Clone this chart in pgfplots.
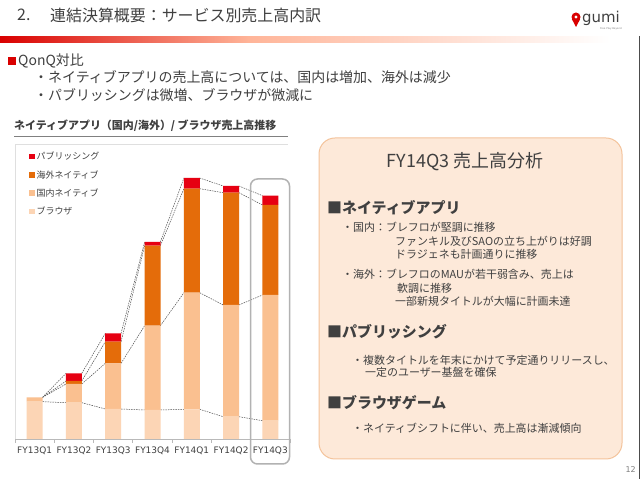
\documentclass[border=0pt]{standalone}
\usepackage{pgfplots}
\pgfplotsset{compat=1.18}
\usepackage{pgfplotstable}
\usepackage{fontspec}
\setmainfont{Noto Sans CJK JP}
\newfontfamily\dv{DejaVu Sans}

\definecolor{pubred}{HTML}{E60012}
\definecolor{overseas}{HTML}{E46C0A}
\definecolor{domestic}{HTML}{FAC090}
\definecolor{browser}{HTML}{FCD5B5}
\definecolor{txt}{HTML}{404040}
\definecolor{panelfill}{HTML}{FDE9D9}
\definecolor{panelline}{HTML}{F4C39B}

\newcommand\fs[1]{\fontsize{#1}{#1}\selectfont}

% sales by segment (same unit for all, no scale shown)
\pgfplotstableread{
q browser domestic overseas pub
0 37.3   4.3   0.0  0.0
1 36.3  18.7   3.0  7.7
2 30.0  45.7  21.6  8.4
3 29.0  84.3  80.0  3.7
4 29.7 116.6 104.0 10.7
5 22.3 111.7 112.3  6.7
6 18.3 125.7  90.0  9.3
}\sales

\pgfplotsset{
  base/.style={scale only axis, width=275bp, height=295bp,
    at={(15bp,40bp)}, anchor=south west,
    xmin=-0.5, xmax=6.5, ymin=0, ymax=295},
  conn/.style={black!70, line width=0.5bp, dash pattern=on 1.5bp off 1bp,
    unbounded coords=jump},
}

\begin{document}
\begin{tikzpicture}[x=1bp,y=1bp]
\fill[white] (0,0) rectangle (640,479);
\useasboundingbox (0,0) rectangle (640,479);

% slide header
\node[anchor=west, text=txt, inner sep=0] at (17,464) {\fs{16}2.};
\node[anchor=west, text=txt, inner sep=0] at (50,464) {\fs{16}連結決算概要：サービス別売上高内訳};
\shade[left color=red!85!black, right color=red!45!orange!40] (0,436.5) rectangle (250,442);
\shade[left color=red!45!orange!40, right color=white] (250,436.5) rectangle (610,442);
\draw[black!70, line width=0.8bp] (639,443) -- (639,0);

% logo
\fill[red!85!black] (576,462) circle (4.5);
\fill[red!85!black] (571.8,460) -- (580.2,460) -- (576,452) -- cycle;
\fill[white] (576,462) circle (1.6);
\node[anchor=west, text=txt, inner sep=0] at (582,461) {\dv\fs{15}gumi};
\node[anchor=west, text=gray, inner sep=0] at (600,450) {\dv\fs{2.5}Free Play Beyond};

% summary bullets
\fill[red!85!black] (8,414) rectangle (16,422);
\node[anchor=west, text=txt, inner sep=0] at (18,418) {\fs{14}QonQ対比};
\node[anchor=west, text=txt, inner sep=0] at (34,402) {\fs{14}・ネイティブアプリの売上高については、国内は増加、海外は減少};
\node[anchor=west, text=txt, inner sep=0] at (34,384) {\fs{14}・パブリッシングは微増、ブラウザが微減に};

% chart title
\node[anchor=west, text=txt, inner sep=0] at (14,353) {\fs{11}\bfseries ネイティブアプリ（国内/海外）/ ブラウザ売上高推移};
\draw[gray, line width=0.8bp] (14,343) -- (288,343);
\draw[gray!25, line width=0.8bp] (15,335) -- (288,335);

% connectors between segment tops
\begin{axis}[base, hide axis]
\addplot[conn] coordinates {(0.2,37.3)(0.8,36.3)(1,nan)(1.2,36.3)(1.8,30.0)(2,nan)(2.2,30.0)(2.8,29.0)(3,nan)(3.2,29.0)(3.8,29.7)(4,nan)(4.2,29.7)(4.8,22.3)(5,nan)(5.2,22.3)(5.8,18.3)};
\addplot[conn] coordinates {(0.2,41.6)(0.8,55.0)(1,nan)(1.2,55.0)(1.8,75.7)(2,nan)(2.2,75.7)(2.8,113.3)(3,nan)(3.2,113.3)(3.8,146.3)(4,nan)(4.2,146.3)(4.8,134.0)(5,nan)(5.2,134.0)(5.8,144.0)};
\addplot[conn] coordinates {(0.2,41.6)(0.8,58.0)(1,nan)(1.2,58.0)(1.8,97.3)(2,nan)(2.2,97.3)(2.8,193.3)(3,nan)(3.2,193.3)(3.8,250.3)(4,nan)(4.2,250.3)(4.8,246.3)(5,nan)(5.2,246.3)(5.8,234.0)};
\addplot[conn] coordinates {(0.2,41.6)(0.8,65.7)(1,nan)(1.2,65.7)(1.8,105.7)(2,nan)(2.2,105.7)(2.8,197.0)(3,nan)(3.2,197.0)(3.8,261.0)(4,nan)(4.2,261.0)(4.8,253.0)(5,nan)(5.2,253.0)(5.8,243.3)};
\end{axis}

\begin{axis}[base, ybar stacked, bar width=16bp,
  axis lines*=left,
  y axis line style={draw=gray!25, line width=0.8bp},
  x axis line style={draw=gray!55, line width=0.8bp},
  ytick=\empty,
  xtick={0,...,6},
  xticklabels={FY13Q1,FY13Q2,FY13Q3,FY13Q4,FY14Q1,FY14Q2,FY14Q3},
  major tick length=0pt,
  tick style={draw=gray!55, line width=0.8bp},
  extra x ticks={-0.5,0.5,1.5,2.5,3.5,4.5,5.5,6.5},
  extra x tick labels={},
  extra x tick style={major tick length=4bp, tick align=outside},
  xticklabel style={font=\dv\fs{9}, text=txt, yshift=-4bp},
  legend style={at={(0,1)}, anchor=north west, xshift=14bp, yshift=-6bp,
    draw=none, fill=none, font=\fs{9}, text=txt, row sep=5bp,
    cells={anchor=west}, inner sep=0pt},
  legend image code/.code={\fill[#1,draw=none] (0bp,-2.7bp) rectangle (5.4bp,2.7bp);},
  reverse legend,
]
\addplot[fill=browser, draw=none] table[x=q, y=browser]{\sales};
\addlegendentry{ブラウザ}
\addplot[fill=domestic, draw=none] table[x=q, y=domestic]{\sales};
\addlegendentry{国内ネイティブ}
\addplot[fill=overseas, draw=none] table[x=q, y=overseas]{\sales};
\addlegendentry{海外ネイティブ}
\addplot[fill=pubred, draw=none] table[x=q, y=pub]{\sales};
\addlegendentry{パブリッシング}
\end{axis}

% highlight of the latest quarter
\draw[gray!60, line width=1.5bp, rounded corners=7bp] (250.5,15) rectangle (289.5,300);

% analysis panel
\draw[fill=panelfill, draw=panelline, line width=1bp, rounded corners=16bp] (319,20) rectangle (622,341);
\node[text=txt, inner sep=0] at (465,317) {\fs{18}FY14Q3 売上高分析};
\node[anchor=west, text=txt, inner sep=0] at (327,271) {\fs{15}\bfseries ■ネイティブアプリ};
\node[anchor=west, text=txt, inner sep=0] at (342,252) {\fs{11}・国内：ブレフロが堅調に推移};
\node[anchor=west, text=txt, inner sep=0] at (395,238) {\fs{11}ファンキル及びSAOの立ち上がりは好調};
\node[anchor=west, text=txt, inner sep=0] at (395,225) {\fs{11}ドラジェネも計画通りに推移};
\node[anchor=west, text=txt, inner sep=0] at (342,205) {\fs{11}・海外：ブレフロのMAUが若干弱含み、売上は};
\node[anchor=west, text=txt, inner sep=0] at (397,191) {\fs{11}軟調に推移};
\node[anchor=west, text=txt, inner sep=0] at (395,178) {\fs{11}一部新規タイトルが大幅に計画未達};
\node[anchor=west, text=txt, inner sep=0] at (327,147) {\fs{15}\bfseries ■パブリッシング};
\node[anchor=west, text=txt, inner sep=0] at (352,119) {\fs{11}・複数タイトルを年末にかけて予定通りリリースし、};
\node[anchor=west, text=txt, inner sep=0] at (365,107) {\fs{11}一定のユーザー基盤を確保};
\node[anchor=west, text=txt, inner sep=0] at (327,76) {\fs{15}\bfseries ■ブラウザゲーム};
\node[anchor=west, text=txt, inner sep=0] at (352,51) {\fs{11}・ネイティブシフトに伴い、売上高は漸減傾向};
\node[anchor=east, text=gray, inner sep=0] at (636,9) {\dv\fs{8}12};
\end{tikzpicture}
\end{document}
